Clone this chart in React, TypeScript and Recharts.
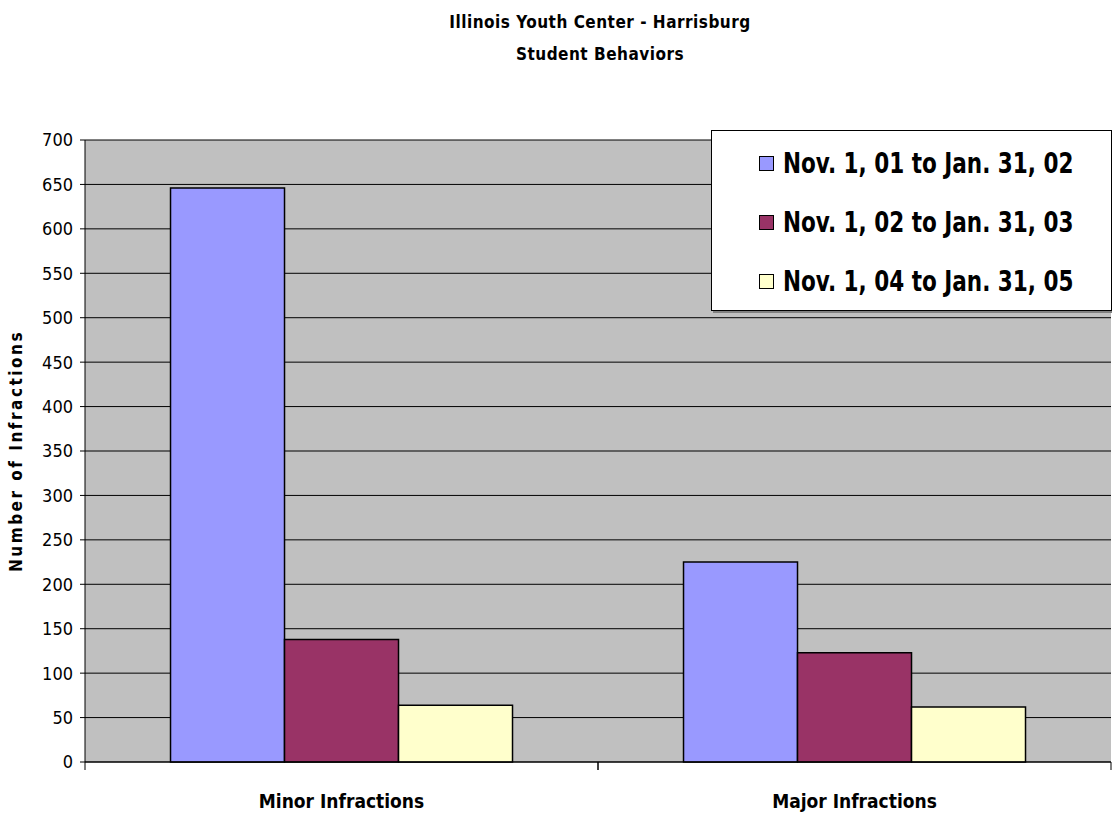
import React from "react";
import {
  BarChart,
  Bar,
  XAxis,
  YAxis,
  CartesianGrid,
  Legend
} from "recharts";

const categories = ["Minor Infractions", "Major Infractions"];
const period0102 = [646, 225];
const period0203 = [138, 123];
const period0405 = [64, 62];
const yTicks = [0, 50, 100, 150, 200, 250, 300, 350, 400, 450, 500, 550, 600, 650, 700];

const seriesInfo = [
  { key: "p1", name: "Nov. 1, 01 to Jan. 31, 02", color: "#9999FF" },
  { key: "p2", name: "Nov. 1, 02 to Jan. 31, 03", color: "#993366" },
  { key: "p3", name: "Nov. 1, 04 to Jan. 31, 05", color: "#FFFFCC" }
];

const data = categories.map((c, i) => ({
  name: c,
  p1: period0102[i],
  p2: period0203[i],
  p3: period0405[i]
}));

const FONT = "'Liberation Sans Narrow', 'DejaVu Sans Condensed', 'Arial Narrow', sans-serif";
const CHART_W = 1112;
const CHART_H = 813;
const PLOT_LEFT = 85;
const PLOT_RIGHT = 1111;
const BAND = (PLOT_RIGHT - PLOT_LEFT) / categories.length;

// category label in the middle, tick marks on the band edges (Excel style)
const CategoryTick = (props: any) => {
  const { x, y, payload } = props;
  return (
    <g>
      <line x1={x - BAND / 2} y1={y - 8} x2={x - BAND / 2} y2={y} stroke="#000" />
      <line x1={x + BAND / 2} y1={y - 8} x2={x + BAND / 2} y2={y} stroke="#000" />
      <text
        x={x}
        y={y + 38}
        textAnchor="middle"
        fontFamily={FONT}
        fontStretch="condensed"
        fontWeight="bold"
        fontSize={19}
        fill="#000"
      >
        {payload.value}
      </text>
    </g>
  );
};

const LegendBox = () => (
  <div
    style={{
      width: 401,
      height: 181,
      background: "#fff",
      border: "1px solid #000",
      boxShadow: "2px 2px 0 #808080",
      fontFamily: FONT,
      fontStretch: "condensed",
      boxSizing: "border-box",
      paddingTop: 3
    }}
  >
    {seriesInfo.map((s) => (
      <div
        key={s.key}
        style={{ display: "flex", alignItems: "center", height: 59, paddingLeft: 47 }}
      >
        <span
          style={{
            display: "inline-block",
            width: 13,
            height: 13,
            background: s.color,
            border: "1px solid #000",
            marginRight: 9,
            flexShrink: 0
          }}
        />
        <span
          style={{
            display: "inline-block",
            fontSize: 28,
            fontWeight: "bold",
            color: "#000",
            whiteSpace: "nowrap",
            transform: "scaleX(0.855)",
            transformOrigin: "left center"
          }}
        >
          {s.name}
        </span>
      </div>
    ))}
  </div>
);

export default function App() {
  return (
    <div style={{ position: "absolute", left: 0, top: 0, width: CHART_W, height: CHART_H, background: "#fff" }}>
      {/* Title */}
      <div
        style={{
          position: "absolute",
          left: 0,
          top: 6,
          width: 1200,
          textAlign: "center",
          fontFamily: FONT,
          fontStretch: "condensed",
          fontSize: 17,
          fontWeight: "bold",
          lineHeight: "32px",
          letterSpacing: 0.5,
          color: "#000"
        }}
      >
        <div>Illinois Youth Center - Harrisburg</div>
        <div>Student Behaviors</div>
      </div>

      <BarChart
        width={CHART_W}
        height={CHART_H}
        data={data}
        margin={{ top: 140, right: 1, left: 0, bottom: 0 }}
        barCategoryGap="16.67%"
        barGap={0}
      >
        <CartesianGrid
          vertical={false}
          stroke="#000"
          fill="#C0C0C0"
          horizontalValues={yTicks}
        />
        <XAxis
          dataKey="name"
          height={51}
          axisLine={{ stroke: "#000" }}
          tickLine={false}
          tick={<CategoryTick />}
          interval={0}
        />
        <YAxis
          width={85}
          domain={[0, 700]}
          ticks={yTicks}
          interval={0}
          axisLine={{ stroke: "#000" }}
          tickLine={{ stroke: "#000" }}
          tickSize={5}
          tickMargin={7}
          tick={{ fill: "#000", fontSize: 18, fontFamily: FONT, fontStretch: "condensed" }}
          label={{
            value: "Number of Infractions",
            angle: -90,
            position: "insideLeft",
            offset: 16,
            style: {
              fontFamily: FONT,
              fontStretch: "condensed",
              fontSize: 17,
              fontWeight: "bold",
              letterSpacing: 2.5,
              fill: "#000",
              textAnchor: "middle"
            }
          }}
        />
        <Legend
          content={<LegendBox />}
          layout="horizontal"
          verticalAlign="middle"
          align="center"
          wrapperStyle={{ position: "absolute", left: 711, top: 130, width: 401 }}
        />
        {seriesInfo.map((s) => (
          <Bar
            key={s.key}
            dataKey={s.key}
            name={s.name}
            fill={s.color}
            stroke="#000"
            strokeWidth={1.5}
            isAnimationActive={false}
          />
        ))}
      </BarChart>
    </div>
  );
}
